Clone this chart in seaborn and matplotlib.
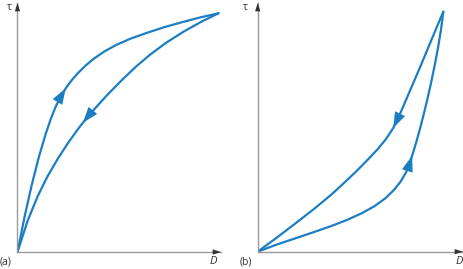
import matplotlib
matplotlib.use("Agg")
import matplotlib.pyplot as plt
import seaborn as sns
import pandas as pd
import numpy as np

# ---------------- data (normalised D, tau) ----------------
# (a) thixotropic loop: loading curve (origin -> peak)
a_up_D   = [0.0, 0.035, 0.07, 0.105, 0.14, 0.165, 0.19, 0.215, 0.24, 0.27, 0.30, 0.34, 0.38, 0.43, 0.49, 0.56, 0.64, 0.73, 0.82, 0.91, 1.0]
a_up_tau = [0.0, 0.147, 0.278, 0.394, 0.494, 0.556, 0.609, 0.651, 0.686, 0.720, 0.749, 0.782, 0.810, 0.839, 0.867, 0.893, 0.917, 0.942, 0.963, 0.983, 1.0]
# (a) unloading curve (peak -> origin)
a_down_D   = [1.0, 0.92, 0.83, 0.74, 0.66, 0.59, 0.52, 0.45, 0.40, 0.35, 0.325, 0.30, 0.25, 0.20, 0.15, 0.10, 0.05, 0.0]
a_down_tau = [1.0, 0.967, 0.925, 0.877, 0.827, 0.777, 0.721, 0.661, 0.615, 0.567, 0.541, 0.514, 0.455, 0.390, 0.318, 0.233, 0.130, 0.0]

# (b) rheopectic loop: loading curve (origin -> peak)
b_up_D   = [0.0, 0.10, 0.20, 0.30, 0.40, 0.48, 0.56, 0.63, 0.69, 0.735, 0.77, 0.80, 0.815, 0.832, 0.855, 0.875, 0.895, 0.915, 0.935, 0.955, 0.972, 0.987, 1.0]
b_up_tau = [0.0, 0.029, 0.055, 0.081, 0.108, 0.132, 0.160, 0.190, 0.224, 0.258, 0.292, 0.332, 0.358, 0.400, 0.458, 0.514, 0.574, 0.638, 0.707, 0.782, 0.852, 0.922, 1.0]
# (b) unloading curve (peak -> origin)
b_down_D   = [1.0, 0.94, 0.88, 0.82, 0.77, 0.73, 0.69, 0.645, 0.59, 0.53, 0.47, 0.40, 0.30, 0.20, 0.10, 0.0]
b_down_tau = [1.0, 0.89, 0.778, 0.67, 0.58, 0.515, 0.468, 0.426, 0.381, 0.334, 0.290, 0.240, 0.176, 0.116, 0.057, 0.0]

# index of the point where the direction arrowhead tip sits on each curve
arrow_idx = {"a_up": 8, "a_down": 10, "b_up": 13, "b_down": 5}

panel_labels = ["(a)", "(b)"]
x_label = "D"
y_label = "\u03c4"

# ---------------- style ----------------
sns.set_style("white")
plt.rcParams["font.family"] = ["Open Sans", "DejaVu Sans"]

BLUE = "#1b7ec3"
AXIS = "#9a9a9a"
DARK = "#333333"

W, H = 464, 269
fig = plt.figure(figsize=(W / 100, H / 100), dpi=100)


def px_axes(x0, y0, x1, y1):
    return fig.add_axes([x0 / W, (H - y0) / H, (x1 - x0) / W, (y0 - y1) / H])


def draw_panel(ax, curves, xmax, ymax):
    ax.set_xlim(0, xmax)
    ax.set_ylim(0, ymax)
    for key, (xs, ys) in curves.items():
        df = pd.DataFrame({"D": xs, "tau": ys})
        sns.lineplot(data=df, x="D", y="tau", sort=False, estimator=None,
                     color=BLUE, lw=1.6, ax=ax)
        i = arrow_idx[key]
        tip = np.array([xs[i], ys[i]])
        prev = np.array([xs[i - 1], ys[i - 1]])
        p_tip = ax.transData.transform(tip)
        p_prev = ax.transData.transform(prev)
        k = 30.0 / np.hypot(*(p_prev - p_tip))
        tail = tip + k * (prev - tip)
        ax.annotate("", xy=tuple(tip), xytext=tuple(tail),
                    arrowprops=dict(arrowstyle="-|>,head_length=11.5,head_width=4.0",
                                    mutation_scale=1, color=BLUE, lw=0,
                                    shrinkA=0, shrinkB=0))
    ax.set_xlim(0, xmax)
    ax.set_ylim(0, ymax)
    ax.set_xlabel("")
    ax.set_ylabel("")
    ax.set_xticks([])
    ax.set_yticks([])
    for s in ["top", "right"]:
        ax.spines[s].set_visible(False)
    for s in ["left", "bottom"]:
        ax.spines[s].set_color(AXIS)
        ax.spines[s].set_linewidth(1.0)
    ah = dict(arrowstyle="-|>,head_length=6,head_width=1.9", mutation_scale=1,
              color=DARK, lw=0, shrinkA=0, shrinkB=0)
    ax.annotate("", xy=(1, 0), xytext=(0.9, 0), xycoords="axes fraction",
                arrowprops=ah, annotation_clip=False)
    ax.annotate("", xy=(0, 1), xytext=(0, 0.9), xycoords="axes fraction",
                arrowprops=ah, annotation_clip=False)


ax_a = px_axes(17.5, 252, 221, 3)
draw_panel(ax_a, {"a_up": (a_up_D, a_up_tau), "a_down": (a_down_D, a_down_tau)},
           (221 - 17.5) / 201, (252 - 3) / 238.7)

ax_b = px_axes(257.7, 251.7, 463, 3)
draw_panel(ax_b, {"b_up": (b_up_D, b_up_tau), "b_down": (b_down_D, b_down_tau)},
           (463 - 257.7) / 185.6, (251.7 - 3) / 240)


def ftext(x, y, s, **kw):
    fig.text(x / W, 1 - y / H, s, color=DARK, ha="center", va="center", **kw)


ftext(9.5, 7, y_label, fontsize=7.5)
ftext(213.5, 261, x_label, fontsize=8, style="italic")
ftext(6, 262, panel_labels[0], fontsize=7.5)

ftext(245.5, 7, y_label, fontsize=7.5)
ftext(459, 261, x_label, fontsize=8, style="italic")
ftext(245.5, 262, panel_labels[1], fontsize=7.5)

fig.savefig("out.png", dpi=100)
